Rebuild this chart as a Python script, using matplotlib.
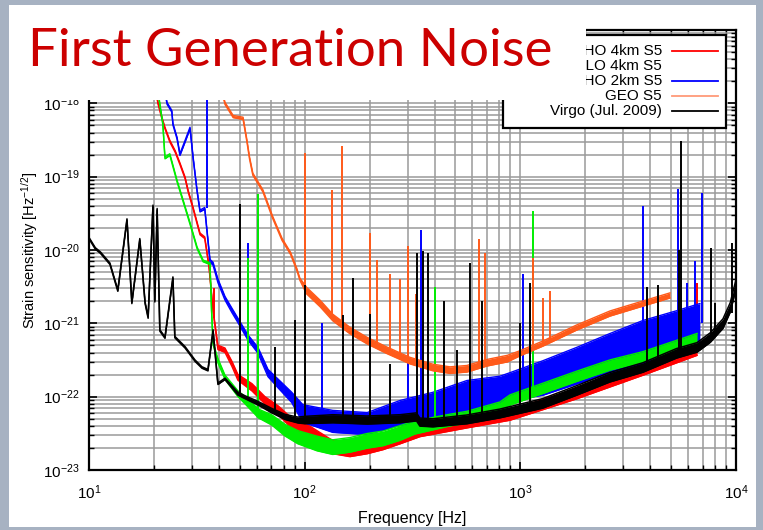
import numpy as np
import matplotlib
matplotlib.use("Agg")
import matplotlib.pyplot as plt
from matplotlib.patches import Rectangle
from matplotlib.lines import Line2D
from matplotlib.ticker import LogLocator, NullFormatter

plt.rcParams['font.family'] = ['Liberation Sans', 'DejaVu Sans']
plt.rcParams['mathtext.fontset'] = 'custom'
plt.rcParams['mathtext.rm'] = 'Liberation Sans'
plt.rcParams['mathtext.it'] = 'Liberation Sans:italic'
plt.rcParams['mathtext.bf'] = 'Liberation Sans:bold'

# ---------------- data ----------------
title = "First Generation Noise"
labels = ["LHO 4km S5", "LLO 4km S5", "LHO 2km S5", "GEO S5", "Virgo (Jul. 2009)"]
x_label = "Frequency [Hz]"
y_label = r"Strain sensitivity [Hz$^{-1/2}$]"

# LHO 4km (red)
red_f = [20.4, 20.9, 21.8, 22.5, 23.7, 25.1, 26.4, 27.9, 28.8, 30.4, 32.7, 34.4, 36.0, 37.6, 39.6,
         42.7, 46, 49, 57, 65.5, 75.5, 87, 98, 114, 135, 162, 195, 231, 277, 342, 565, 895,
         1830, 3700, 6600]
red_mid = [1.45e-18, 1e-18, 6.25e-19, 4.6e-19, 3.05e-19, 2.2e-19, 1.5e-19, 9.6e-20, 6.4e-20,
           3.7e-20, 1.66e-20, 1.47e-20, 6e-21, 1.5e-21, 4.7e-22, 4.3e-22, 2.8e-22, 1.84e-22,
           1.34e-22, 8.9e-23, 6.5e-23, 4.35e-23, 3.8e-23, 2.8e-23, 2.05e-23, 1.87e-23, 2.05e-23,
           2.33e-23, 2.8e-23, 3.5e-23, 4.4e-23, 5.6e-23, 1.1e-22, 2.3e-22, 4.3e-22]
red_spread = [0.012] * 14 + [0.03, 0.03, 0.035, 0.04, 0.05, 0.05, 0.06, 0.07, 0.08, 0.09, 0.09,
                             0.09, 0.09, 0.09, 0.09, 0.09, 0.07, 0.07, 0.07, 0.07, 0.07]
red_spk_f = [38.0, 6600]
red_spk_lo = [1.2e-21, 4.3e-22]
red_spk_hi = [3.0e-21, 3.5e-21]

# LLO 4km (green)
green_f = [20.9, 21.3, 22.0, 22.5, 23.7, 25.6, 27.3, 29.4, 31.7, 33.8, 36.4, 37.0, 37.6, 39.6,
           42.7, 49, 53, 61, 70.5, 81, 93, 114, 135, 162, 195, 231, 277, 324, 472, 565, 804, 895,
           1273, 1830, 2603, 3700, 6600]
green_mid = [1.45e-18, 9.7e-19, 5.2e-19, 1.8e-19, 2.0e-19, 8.7e-20, 4.7e-20, 2.3e-20, 1.07e-20,
             7.1e-21, 6.5e-21, 1.5e-21, 5.3e-22, 3.1e-22, 1.84e-22, 1.1e-22, 8.9e-23, 5.9e-23,
             4.8e-23, 3.5e-23, 2.8e-23, 2.3e-23, 2.05e-23, 2.2e-23, 2.5e-23, 2.7e-23, 3.2e-23,
             3.8e-23, 4.8e-23, 5.25e-23, 7.2e-23, 9e-23, 1.3e-22, 1.9e-22, 2.7e-22, 3.5e-22, 6.2e-22]
green_spread = [0.012] * 13 + [0.03, 0.03, 0.04, 0.05, 0.06, 0.07, 0.08, 0.09, 0.1, 0.1, 0.1,
                               0.1, 0.1, 0.1, 0.09, 0.08, 0.08, 0.07, 0.07, 0.07, 0.07, 0.07,
                               0.07, 0.07]
green_spk_f = [54.7, 60.7, 400, 1143]
green_spk_lo = [8.9e-23, 5.9e-23, 4.5e-23, 1.3e-22]
green_spk_hi = [7.8e-21, 5.8e-20, 3.1e-21, 3.4e-20]

# LHO 2km (blue)
blue_f = [22.5, 23.0, 24.2, 24.5, 25.6, 26.4, 27.9, 29.4, 30.4, 31.7, 32.7, 34.4, 36.4, 37.6,
          39.6, 42.7, 46, 49, 54.6, 60.7, 67.6, 75.5, 87, 98, 135, 195, 277, 393, 565, 804, 895,
          1273, 1830, 2603, 3700, 5321, 6800]
blue_mid = [1.45e-18, 1e-18, 7.8e-19, 5.2e-19, 3.35e-19, 2.0e-19, 3.05e-19, 4.6e-19, 1.8e-19,
            6.4e-20, 3.4e-20, 3.7e-20, 7.1e-21, 6.5e-21, 3.8e-21, 2.2e-21, 1.5e-21, 1.1e-21,
            6.4e-22, 4.3e-22, 2.1e-22, 1.5e-22, 9.8e-23, 5.9e-23, 4.6e-23, 4.3e-23, 6e-23, 7.4e-23,
            1.0e-22, 1.2e-22, 1.37e-22, 1.8e-22, 2.65e-22, 3.9e-22, 5.6e-22, 8e-22, 1e-21]
blue_spread = [0.012] * 12 + [0.02, 0.02, 0.025, 0.025, 0.03, 0.03, 0.035, 0.04, 0.05, 0.06,
                              0.07, 0.12, 0.15, 0.15, 0.17, 0.19, 0.22, 0.2, 0.19, 0.235, 0.25,
                              0.27, 0.29, 0.27, 0.27]
blue_spk_f = [35.2, 54.7, 60.7, 120, 301, 346, 1028, 1143, 3700, 5380, 5920, 6450, 6955]
blue_spk_lo = [3.7e-20, 6.4e-22, 4.3e-22, 5e-23, 6e-23, 7e-23, 1.5e-22, 1.6e-22, 5.6e-22,
               8e-22, 8.5e-22, 9e-22, 1e-21]
blue_spk_hi = [2e-18, 1.25e-20, 2.65e-20, 1e-21, 3.9e-22, 1.9e-20, 4.7e-21, 7.1e-21, 4e-20,
               6.8e-20, 3.5e-21, 7.1e-21, 6e-20]

# GEO S5 (orange)
geo_f = [41.4, 42.7, 46.6, 51.8, 54, 55.5, 57.5, 64, 71, 78.5, 86, 92, 95, 102, 118, 135, 162,
         195, 240, 308, 393, 472, 565, 700, 870, 995, 1273, 1830, 2603, 3700, 4940]
geo_mid = [1.45e-18, 1e-18, 6.6e-19, 6.25e-19, 3.05e-19, 1.8e-19, 1.08e-19, 6.4e-20, 2.8e-20,
           1.4e-20, 9e-21, 5.4e-21, 4e-21, 2.8e-21, 1.86e-21, 1.2e-21, 8e-22, 5.8e-22, 4.3e-22,
           3.1e-22, 2.5e-22, 2.3e-22, 2.4e-22, 2.9e-22, 3.3e-22, 3.9e-22, 5.3e-22, 8.8e-22,
           1.36e-21, 1.86e-21, 2.4e-21]
geo_spread = [0.015] * 13 + [0.045] * 12 + [0.035] * 6
geo_spk_f = [100, 134, 149, 201, 216, 249, 277, 301, 330, 643, 685, 1143, 1273, 1371]
geo_spk_lo = [3e-21, 1.2e-21, 9.5e-22, 5.7e-22, 5e-22, 4.2e-22, 3.6e-22, 3.2e-22, 2.9e-22,
              2.7e-22, 2.8e-22, 4.6e-22, 5.3e-22, 6e-22]
geo_spk_hi = [2.1e-19, 6.6e-20, 2.6e-19, 1.7e-20, 7.4e-21, 4.7e-21, 4.0e-21, 1.14e-20, 2.5e-21,
              1.43e-20, 9.2e-21, 7.8e-21, 2.2e-21, 2.8e-21]

# Virgo Jul. 2009 (black)
vir_f = [10, 10.7, 11.3, 12.5, 13.6, 15.0, 15.8, 17.2, 18.2, 18.8, 19.8, 20.2, 20.7, 21.3, 22.5,
         24.5, 25.0, 27.9, 31, 33.4, 35.6, 37.6, 39.6, 42.7, 49, 53, 61, 70, 81, 93, 100, 135,
         195, 277, 330, 342, 393, 565, 804, 1270, 1830, 2600, 3700, 5300, 6600, 7600, 8700,
         9400, 10000]
vir_mid = [1.45e-20, 1.05e-20, 9.2e-21, 6.5e-21, 2.8e-21, 2.6e-20, 1.9e-21, 1.4e-20, 1.9e-21,
           1.2e-21, 4.0e-20, 2.0e-21, 3.6e-20, 8e-22, 6.4e-22, 4.2e-21, 6.5e-22, 4.7e-22, 3.1e-22,
           2.5e-22, 2.3e-22, 8e-22, 1.5e-22, 1.75e-22, 1.1e-22, 9.8e-23, 8.1e-23, 6.5e-23, 5.3e-23,
           4.8e-23, 4.8e-23, 5.0e-23, 4.8e-23, 5.0e-23, 5.3e-23, 4.5e-23, 4.4e-23, 4.9e-23,
           5.9e-23, 8.1e-23, 1.22e-22, 1.84e-22, 2.5e-22, 3.9e-22, 4.7e-22, 6.4e-22, 9.9e-22,
           1.64e-21, 3.4e-21]
vir_spread = [0.01] * 24 + [0.02, 0.02, 0.025, 0.03, 0.035, 0.04, 0.05, 0.055, 0.055, 0.055,
                            0.055, 0.055, 0.055, 0.06, 0.06, 0.065, 0.065, 0.065, 0.065, 0.065,
                            0.065, 0.065, 0.065, 0.065, 0.065]
vir_spk_f = [50.1, 72.8, 90.2, 100, 150, 167, 201, 249, 332, 353, 373, 442, 508, 583, 663, 995,
             1108, 3864, 4345, 5450, 5546, 7656, 7985, 9570]
vir_spk_lo = [1.1e-22, 6.3e-23, 5e-23, 5e-23, 5e-23, 5e-23, 5e-23, 5e-23, 5e-23, 5e-23, 4.5e-23,
              4.5e-23, 4.7e-23, 5e-23, 5.3e-23, 7e-23, 7.5e-23, 2.5e-22, 2.9e-22, 3.9e-22,
              3.9e-22, 6.4e-22, 7e-22, 1.4e-21]
vir_spk_hi = [4.2e-20, 4.7e-22, 1.1e-21, 3.3e-21, 1.3e-21, 4.2e-21, 1.36e-21, 2.8e-22, 9.2e-21,
              9.8e-21, 9.2e-21, 2.04e-21, 4.3e-22, 6.7e-21, 2.0e-21, 1e-21, 3.5e-21, 3.1e-21,
              3.3e-21, 1e-20, 3.05e-19, 1.07e-20, 1.9e-21, 1.25e-20]

x_ticks = [1e1, 1e2, 1e3, 1e4]
x_ticklabels = [r"$10^{1}$", r"$10^{2}$", r"$10^{3}$", r"$10^{4}$"]
y_ticks = [1e-23, 1e-22, 1e-21, 1e-20, 1e-19, 1e-18, 1e-17]
y_ticklabels = [r"$10^{-23}$", r"$10^{-22}$", r"$10^{-21}$", r"$10^{-20}$", r"$10^{-19}$",
                r"$10^{-18}$", ""]

# ---------------- styling ----------------
C_RED, C_GREEN, C_BLUE, C_GEO, C_VIR = "#ff0000", "#00ee00", "#0000ff", "#ff5a1a", "#000000"
W, H = 763, 530

fig = plt.figure(figsize=(W / 100, H / 100), dpi=100)
fig.patch.set_facecolor("#a7b2c2")

# white slide panel
fig.patches.append(Rectangle((9 / W, 1 - 527 / H), 747 / W, 522 / H, transform=fig.transFigure,
                             facecolor="white", edgecolor="none", zorder=-5))

ax_l, ax_r, ax_t, ax_b = 89, 736, 30, 470
ax = fig.add_axes([ax_l / W, 1 - ax_b / H, (ax_r - ax_l) / W, (ax_b - ax_t) / H])
ax.set_xscale("log")
ax.set_yscale("log")
ax.set_xlim(1e1, 1e4)
ax.set_ylim(1e-23, 10 ** (-18 + 72 / 73.6))
ax.set_axisbelow(True)

ax.xaxis.set_minor_locator(LogLocator(base=10, subs=np.arange(2, 10), numticks=100))
ax.yaxis.set_minor_locator(LogLocator(base=10, subs=np.arange(2, 10), numticks=100))
ax.xaxis.set_minor_formatter(NullFormatter())
ax.yaxis.set_minor_formatter(NullFormatter())
ax.set_xticks(x_ticks)
ax.set_xticklabels(x_ticklabels)
ax.set_yticks(y_ticks)
ax.set_yticklabels(y_ticklabels)
ax.grid(True, which="both", color="#9a9a9a", lw=1.1)
ax.tick_params(which="both", direction="in", top=True, right=True, labelsize=11,
               colors="black")
ax.tick_params(which="major", length=6, width=1.2, pad=7)
ax.tick_params(which="minor", length=3.5, width=1.0)
ax.tick_params(axis="x", which="major", pad=10)
for sp in ax.spines.values():
    sp.set_linewidth(1.6)
    sp.set_color("black")
ax.set_xlabel(x_label, fontsize=11.5, labelpad=6)
ax.set_ylabel(y_label, fontsize=10.5, labelpad=2)


def band(f, mid, spread, color, z, lw=1.0):
    f = np.asarray(f, float)
    m = np.asarray(mid, float)
    s = np.asarray(spread, float)
    lo = m / 10 ** s
    hi = m * 10 ** s
    ax.fill_between(f, lo, hi, color=color, lw=0, zorder=z)
    ax.plot(f, lo, color=color, lw=lw, zorder=z)
    ax.plot(f, hi, color=color, lw=lw, zorder=z)


def spikes(f, lo, hi, color, z, lw=1.4):
    ax.vlines(f, lo, hi, colors=color, lw=lw, zorder=z)


band(red_f, red_mid, red_spread, C_RED, 2)
spikes(red_spk_f, red_spk_lo, red_spk_hi, C_RED, 2)
band(blue_f, blue_mid, blue_spread, C_BLUE, 3)
spikes(blue_spk_f, blue_spk_lo, blue_spk_hi, C_BLUE, 3)
band(green_f, green_mid, green_spread, C_GREEN, 4)
spikes(green_spk_f, green_spk_lo, green_spk_hi, C_GREEN, 4)
band(geo_f, geo_mid, geo_spread, C_GEO, 5)
spikes(geo_spk_f, geo_spk_lo, geo_spk_hi, C_GEO, 5)
band(vir_f, vir_mid, vir_spread, C_VIR, 6, lw=1.1)
spikes(vir_spk_f, vir_spk_lo, vir_spk_hi, C_VIR, 6)

# legend box (gnuplot style, inside the plot, top right)
def ax_x(px):
    return (px - ax_l) / (ax_r - ax_l)


def ax_y(py):
    return (ax_b - py) / (ax_b - ax_t)


ax.add_patch(Rectangle((ax_x(503), ax_y(128)), ax_x(726) - ax_x(503), ax_y(35) - ax_y(128),
                       transform=ax.transAxes, facecolor="white", edgecolor="black", lw=1.6,
                       zorder=10, clip_on=False))
leg_colors = [C_RED, None, C_BLUE, "#ff9a78", C_VIR]
rows = [51, 66, 81, 96, 111]
for lab, col, ry in zip(labels, leg_colors, rows):
    ax.text(ax_x(662), ax_y(ry), lab, transform=ax.transAxes, ha="right", va="center",
            fontsize=11, zorder=11)
    if col is not None:
        ax.add_line(Line2D([ax_x(672), ax_x(718)], [ax_y(ry), ax_y(ry)], transform=ax.transAxes,
                           color=col, lw=1.3, zorder=11, clip_on=False))

# title area of the slide (white) on top of the upper part of the plot
fig.patches.append(Rectangle((9 / W, 1 - 100 / H), 577 / W, 95 / H, transform=fig.transFigure,
                             facecolor="white", edgecolor="none", zorder=5))
fig.text(28 / W, 1 - 66 / H, title, fontsize=38, color="#cc0000", family=["Lato", "DejaVu Sans"],
         ha="left", va="baseline", zorder=6)

fig.savefig("out.png", dpi=100, facecolor=fig.get_facecolor())
